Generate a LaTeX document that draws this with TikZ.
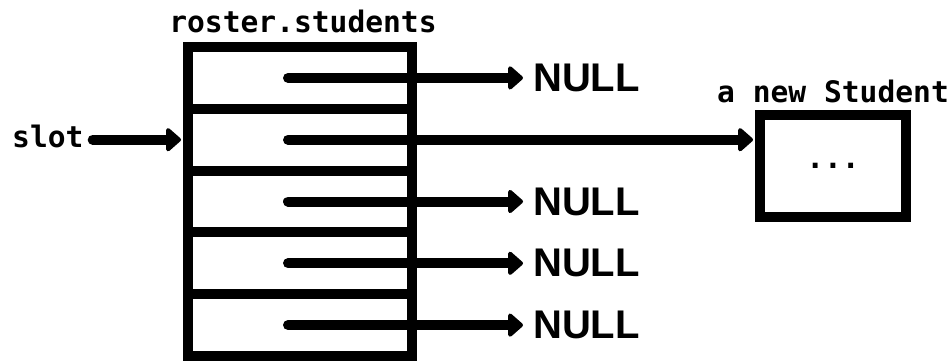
\documentclass[tikz,border=0pt]{standalone}
\usepackage{fontspec}
\newfontfamily\monob{DejaVu Sans Mono}[BoldFont={* Bold}]
\newfontfamily\nullf{Liberation Sans}
\usetikzlibrary{arrows.meta}
\begin{document}
\begin{tikzpicture}[x=1pt,y=-1pt,
  cell/.style={draw,line width=10pt,minimum width=224pt,minimum height=61.8pt,inner sep=0pt},
  obj/.style={draw,line width=10pt,minimum width=146pt,minimum height=102pt,inner sep=0pt},
  lbl/.style={inner sep=0pt,font=\monob\bfseries\fontsize{29.6}{30}\selectfont},
  nul/.style={inner sep=0pt,anchor=west,font=\nullf\bfseries\fontsize{40}{40}\selectfont},
  ptr/.style={line width=10pt,line cap=round,-{Triangle[round,length=16pt,width=27pt,line width=4pt]}}]
\useasboundingbox (0,0) rectangle (952,360);
\node[cell] (r1) at (300,77.9) {};
\node[cell] (r2) at (300,139.7) {};
\node[cell] (r3) at (300,201.5) {};
\node[cell] (r4) at (300,263.3) {};
\node[cell] (r5) at (300,325.1) {};
\node[obj] (s) at (833,166) {};
\node[lbl] (dots) at (s.center) {...};
\node[lbl,anchor=base] (title) at (303,32) {roster.students};
\node[lbl,anchor=base] (stitle) at (833,102) {a new Student};
\node[lbl,anchor=base west] (slot) at (12,147) {slot};
\node[nul] (n1) at (533,77.9) {NULL};
\node[nul] (n3) at (533,201.5) {NULL};
\node[nul] (n4) at (533,263.3) {NULL};
\node[nul] (n5) at (533,325.1) {NULL};
\draw[ptr,shorten <=9pt,shorten >=2pt] (slot.east |- r2.west) -- (r2.west);
\draw[ptr,shorten >=10pt] ([xshift=-12pt]r1.center) -- (n1.west);
\draw[ptr,shorten >=2pt] ([xshift=-12pt]r2.center) -- (s.west |- r2.center);
\draw[ptr,shorten >=10pt] ([xshift=-12pt]r3.center) -- (n3.west);
\draw[ptr,shorten >=10pt] ([xshift=-12pt]r4.center) -- (n4.west);
\draw[ptr,shorten >=10pt] ([xshift=-12pt]r5.center) -- (n5.west);
\end{tikzpicture}
\end{document}
